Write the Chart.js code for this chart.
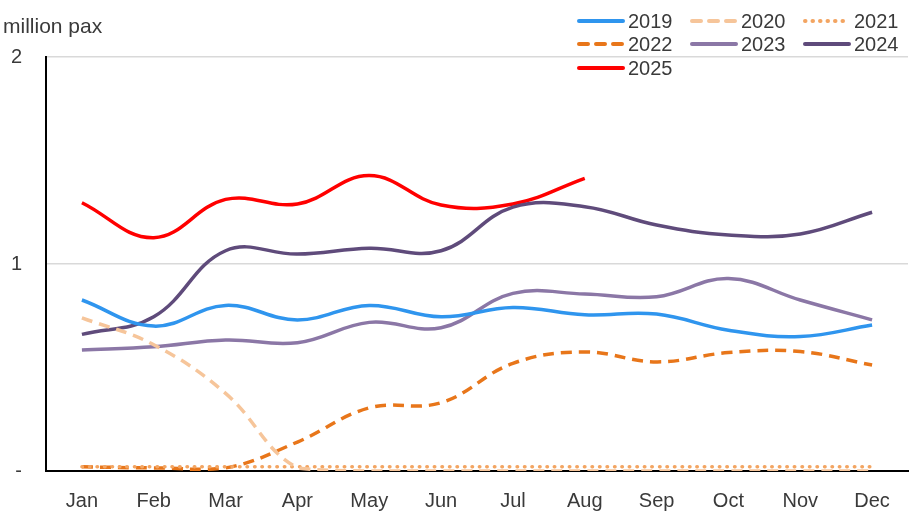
<!DOCTYPE html>
<html>
<head>
<meta charset="utf-8">
<script src="https://cdn.jsdelivr.net/npm/chart.js@4/dist/chart.umd.min.js"></script>
<style>
html,body{margin:0;padding:0;background:#fff;}
#wrap{position:relative;width:913px;height:523px;}
</style>
</head>
<body>
<div id="wrap"><canvas id="c" width="913" height="523"></canvas></div>
<script>
const months = ['Jan','Feb','Mar','Apr','May','Jun','Jul','Aug','Sep','Oct','Nov','Dec'];
const yTicks = [0, 1, 2];
const unitLabel = 'million pax';

const y2019 = [0.826, 0.70, 0.80, 0.73, 0.80, 0.745, 0.79, 0.755, 0.758, 0.68, 0.65, 0.705];
const y2020 = [0.74, 0.61, 0.375, 0.015, 0.0, 0.0, 0.0, 0.0, 0.0, 0.0, 0.0, 0.0];
const y2021 = [0.02, 0.02, 0.02, 0.02, 0.02, 0.02, 0.02, 0.02, 0.02, 0.02, 0.02, 0.02];
const y2022 = [0.02, 0.015, 0.015, 0.14, 0.305, 0.33, 0.52, 0.575, 0.527, 0.572, 0.577, 0.512];
const y2023 = [0.585, 0.60, 0.633, 0.62, 0.718, 0.692, 0.858, 0.855, 0.842, 0.93, 0.826, 0.73];
const y2024 = [0.66, 0.745, 1.064, 1.048, 1.076, 1.064, 1.275, 1.277, 1.188, 1.14, 1.145, 1.25];
const y2025 = [1.296, 1.127, 1.312, 1.29, 1.427, 1.285, 1.29, 1.414];

const FONT = '"Liberation Sans", Arial, sans-serif';
const TEXT = '#3a3a3a';

function ds(label, data, color, dash, cap) {
  return {
    label, data,
    borderColor: color, backgroundColor: color,
    borderWidth: 3.5,
    borderDash: dash || [],
    borderCapStyle: cap || 'butt',
    pointRadius: 0, pointHoverRadius: 0,
    tension: 0.4, fill: false
  };
}

const datasets = [
  ds('2019', y2019, '#2F95EE'),
  ds('2020', y2020, '#F6C59A', [11, 7]),
  ds('2021', y2021, '#F3A562', [0.5, 7], 'round'),
  ds('2022', y2022, '#E8761A', [11, 7]),
  ds('2023', y2023, '#8B77A6'),
  ds('2024', y2024, '#5F4B7B'),
  ds('2025', y2025, '#FF0000')
];

const overlay = {
  id: 'overlay',
  afterDraw(chart) {
    const ctx = chart.ctx;
    ctx.save();
    ctx.fillStyle = TEXT;
    ctx.font = '21px ' + FONT;
    ctx.textBaseline = 'middle';
    ctx.textAlign = 'left';
    ctx.fillText(unitLabel, 3, 27);
    ctx.font = '20px ' + FONT;
    const cols = [577, 690, 803];
    const rows = [21, 44, 68];
    chart.data.datasets.forEach((d, i) => {
      const x = cols[i % 3], y = rows[Math.floor(i / 3)];
      ctx.beginPath();
      ctx.strokeStyle = d.borderColor;
      ctx.lineWidth = 4;
      ctx.lineCap = 'round';
      ctx.setLineDash(d.borderDash.length ? (d.borderCapStyle === 'round' ? [0.5, 7] : [9, 8]) : []);
      ctx.moveTo(x + 2, y);
      ctx.lineTo(x + 46, y);
      ctx.stroke();
      ctx.setLineDash([]);
      ctx.fillStyle = TEXT;
      ctx.fillText(d.label, x + 51, y + 1);
    });
    ctx.restore();
  }
};

new Chart(document.getElementById('c'), {
  type: 'line',
  data: { labels: months, datasets },
  options: {
    responsive: false,
    animation: false,
    devicePixelRatio: 1,
    layout: { padding: { top: 57, right: 5, left: 0, bottom: 0 } },
    plugins: { legend: { display: false }, tooltip: { enabled: false } },
    scales: {
      x: {
        offset: true,
        grid: { display: false, drawTicks: false },
        border: { display: true, color: '#000', width: 2 },
        ticks: { color: TEXT, font: { family: FONT, size: 20 }, padding: 18, maxRotation: 0, autoSkip: false },
        afterFit(s) { s.height = 52; }
      },
      y: {
        min: 0, max: 2,
        afterBuildTicks(s) { s.ticks = yTicks.map(v => ({ value: v })); },
        grid: { color: '#d9d9d9', lineWidth: 1.5, drawTicks: false },
        border: { display: true, color: '#000', width: 2 },
        ticks: {
          color: TEXT, font: { family: FONT, size: 20 }, padding: 24,
          callback: v => v === 0 ? '-' : String(v)
        },
        afterFit(s) { s.width = 46; }
      }
    }
  },
  plugins: [overlay]
});
</script>
</body>
</html>
